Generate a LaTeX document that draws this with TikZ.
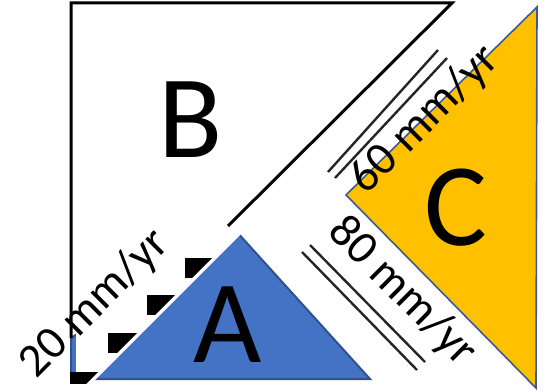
\documentclass[tikz,border=0pt]{standalone}
\usepackage{fontspec}
\setmainfont{Carlito}
\usepackage{tikz}
\definecolor{plateA}{HTML}{4472C4}
\definecolor{edgeA}{HTML}{2F528F}
\definecolor{plateC}{HTML}{FFC000}
\definecolor{edgeC}{HTML}{3A5A9A}

\begin{document}
\begin{tikzpicture}[x=0.5pt,y=-0.5pt,
  letter/.style={font=\fontsize{59}{60}\selectfont,inner sep=0pt},
  rate/.style={font=\fontsize{23.5}{25}\selectfont,inner sep=0pt},
  ridge/.style={black!85,line width=1.2pt}]
\useasboundingbox (0,0) rectangle (551,390);
% --- plate C ---
\filldraw[fill=plateC,draw=edgeC,line width=0.8pt] (537,7) -- (346,195) -- (536,388) -- cycle;
% --- plate A, the white strip and the teeth on its edge ---
\filldraw[fill=plateA,draw=edgeA,line width=1pt] (236,231) -- (370,379) -- (71,379) -- (71,338) -- cycle;
\fill[white] (76,330) -- (226,214) -- (243.5,231.5) -- (92,383) -- (76,383) -- cycle;
\begin{scope}
  \clip (0,0) -- (470,0) -- (0,470) -- cycle;
  \clip (0,0) rectangle (551,383);
  \foreach \x/\y in {185/258,147/295,108/333,70/372}
    \fill (\x,\y) rectangle ++(30,20);
\end{scope}
% --- plate B ---
\draw[line width=1.5pt] (71,338) -- (71,3) -- (452,3) -- (228,226);
% --- the double lines ---
\draw[ridge] (328,172) -- (438,50);
\draw[ridge] (335,178) -- (447,58);
\draw[ridge] (302,252) -- (417,370);
\draw[ridge] (310,245) -- (425,362);
% --- plate names and rates ---
\node[letter] (labB) at (191,120) {B};
\node[letter] (labA) at (228,325) {A};
\node[letter] (labC) at (456,208) {C};
\node[rate,rotate=45] (rateAB) at (95,304) {20 mm/yr};
\node[rate,rotate=45] (rateBC) at (425,120) {60 mm/yr};
\node[rate,rotate=-45] (rateAC) at (402,292) {80 mm/yr};
\end{tikzpicture}
\end{document}
